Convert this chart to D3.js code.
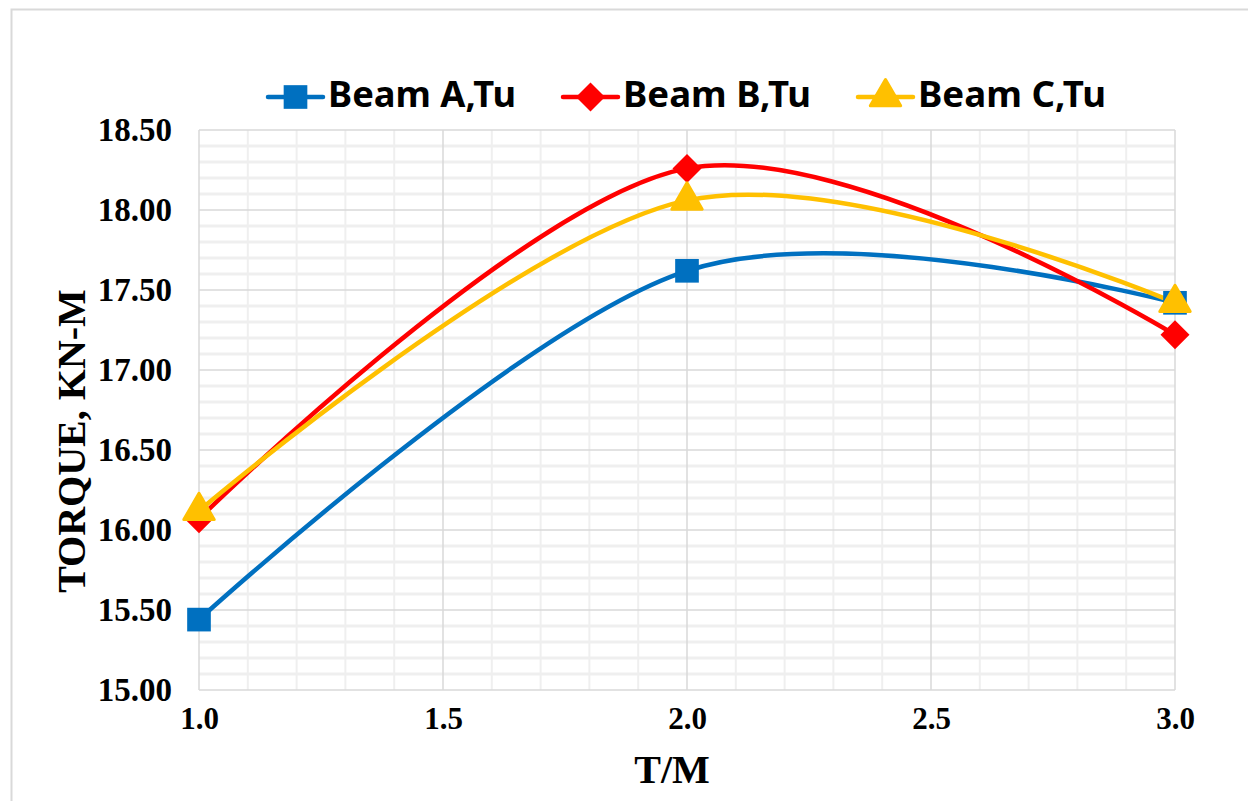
<!DOCTYPE html>
<html>
<head>
<meta charset="utf-8">
<script src="https://cdn.jsdelivr.net/npm/d3@7"></script>
<style>
  html, body { margin: 0; padding: 0; background: #fff; }
  svg { display: block; }
</style>
</head>
<body>
<svg id="chart" width="1248" height="801"></svg>
<script>
// Torque vs T/M for three beams
const xValues = [1.0, 2.0, 3.0];
const beamA = [15.44, 17.62, 17.42];
const beamB = [16.07, 18.26, 17.22];
const beamC = [16.12, 18.06, 17.42];
const seriesNames = ["Beam A,Tu", "Beam B,Tu", "Beam C,Tu"];
const xTicks = [1.0, 1.5, 2.0, 2.5, 3.0];
const yTicks = [15.0, 15.5, 16.0, 16.5, 17.0, 17.5, 18.0, 18.5];

const svg = d3.select("#chart");
const W = 1248, H = 801;
const plot = { left: 199, right: 1175, top: 130, bottom: 690 };

// outer chart frame
svg.append("rect")
  .attr("x", 11.5).attr("y", 9.5)
  .attr("width", W + 20).attr("height", H + 20)
  .attr("fill", "#fff").attr("stroke", "#d9d9d9").attr("stroke-width", 2);

const x = d3.scaleLinear().domain([1.0, 3.0]).range([plot.left, plot.right]);
const y = d3.scaleLinear().domain([15.0, 18.5]).range([plot.bottom, plot.top]);

// minor gridlines every 0.1
const g = svg.append("g");
const isMajor = v => Math.abs(v * 2 - Math.round(v * 2)) < 1e-6;
const minorX = d3.range(10, 31).map(v => v / 10).filter(v => !isMajor(v));
const minorY = d3.range(150, 186).map(v => v / 10).filter(v => !isMajor(v));

g.selectAll("line.minorY").data(minorY).join("line")
  .attr("x1", plot.left).attr("x2", plot.right)
  .attr("y1", d => y(d)).attr("y2", d => y(d))
  .attr("stroke", "#efefef").attr("stroke-width", 3);
g.selectAll("line.minorX").data(minorX).join("line")
  .attr("x1", d => x(d)).attr("x2", d => x(d))
  .attr("y1", plot.top).attr("y2", plot.bottom)
  .attr("stroke", "#efefef").attr("stroke-width", 2);

// major gridlines
g.selectAll("line.majorY").data(yTicks).join("line")
  .attr("x1", plot.left).attr("x2", plot.right)
  .attr("y1", d => y(d)).attr("y2", d => y(d))
  .attr("stroke", "#d9d9d9").attr("stroke-width", 1.5);
g.selectAll("line.majorX").data(xTicks).join("line")
  .attr("x1", d => x(d)).attr("x2", d => x(d))
  .attr("y1", plot.top).attr("y2", plot.bottom)
  .attr("stroke", "#d9d9d9").attr("stroke-width", 1.5);

// axes (labels only; lines come from the grid)
const yAxis = d3.axisLeft(y).tickValues(yTicks).tickFormat(d3.format(".2f")).tickSize(0).tickPadding(27);
const xAxis = d3.axisBottom(x).tickValues(xTicks).tickFormat(d3.format(".1f")).tickSize(0).tickPadding(17);

const ya = svg.append("g").attr("transform", `translate(${plot.left},0)`).call(yAxis);
const xa = svg.append("g").attr("transform", `translate(0,${plot.bottom})`).call(xAxis);
[ya, xa].forEach(a => {
  a.select(".domain").remove();
  a.selectAll("text")
    .attr("font-family", "'Liberation Serif', 'Times New Roman', serif")
    .attr("font-weight", "bold")
    .attr("fill", "#000");
});
ya.selectAll("text").attr("font-size", 33);
xa.selectAll("text").attr("font-size", 31);

// axis titles
svg.append("text")
  .attr("x", 672).attr("y", 783)
  .attr("text-anchor", "middle")
  .attr("font-family", "'Liberation Serif', 'Times New Roman', serif")
  .attr("font-weight", "bold").attr("font-size", 40)
  .text("T/M");
svg.append("text")
  .attr("transform", "translate(85,441) rotate(-90)")
  .attr("text-anchor", "middle")
  .attr("font-family", "'Liberation Serif', 'Times New Roman', serif")
  .attr("font-weight", "bold").attr("font-size", 40)
  .text("TORQUE, KN-M");

// series: diamond drawn as a square turned 45 degrees
const series = [
  { name: seriesNames[0], values: beamA, color: "#0070C0", symbol: d3.symbolSquare, size: 560, rot: 0 },
  { name: seriesNames[1], values: beamB, color: "#FF0000", symbol: d3.symbolSquare, size: 420, rot: 45 },
  { name: seriesNames[2], values: beamC, color: "#FFC000", symbol: d3.symbolTriangle, size: 400, rot: 0 }
];

const line = d3.line()
  .x((d, i) => x(xValues[i]))
  .y(d => y(d))
  .curve(d3.curveCardinal.tension(0));

function drawMarker(sel, s) {
  sel.attr("d", d3.symbol().type(s.symbol).size(s.size))
    .attr("fill", s.color)
    .attr("stroke", s.color)
    .attr("stroke-width", s.symbol === d3.symbolTriangle ? 3 : 0)
    .attr("stroke-linejoin", "round");
}

const sg = svg.append("g");
series.forEach(s => {
  sg.append("path")
    .attr("d", line(s.values))
    .attr("fill", "none")
    .attr("stroke", s.color)
    .attr("stroke-width", 4.5)
    .attr("stroke-linecap", "round");
});
series.forEach(s => {
  sg.selectAll(null).data(s.values).join("path")
    .attr("transform", (d, i) => `translate(${x(xValues[i])},${y(d)}) rotate(${s.rot})`)
    .call(drawMarker, s);
});

// legend
const legendX = [268, 563, 858];
const legendY = 97;
const lg = svg.append("g");
series.forEach((s, i) => {
  const lx = legendX[i];
  lg.append("line")
    .attr("x1", lx).attr("x2", lx + 55)
    .attr("y1", legendY).attr("y2", legendY)
    .attr("stroke", s.color).attr("stroke-width", 4.5).attr("stroke-linecap", "round");
  lg.append("path")
    .attr("transform", `translate(${lx + 27.5},${legendY}) rotate(${s.rot})`)
    .call(drawMarker, s);
  lg.append("text")
    .attr("x", lx + 60).attr("y", legendY + 10)
    .attr("font-family", "'Noto Sans', 'Open Sans', sans-serif")
    .attr("font-weight", "bold").attr("font-size", 35)
    .attr("textLength", 188).attr("lengthAdjust", "spacingAndGlyphs")
    .attr("fill", "#000")
    .text(s.name);
});
</script>
</body>
</html>
